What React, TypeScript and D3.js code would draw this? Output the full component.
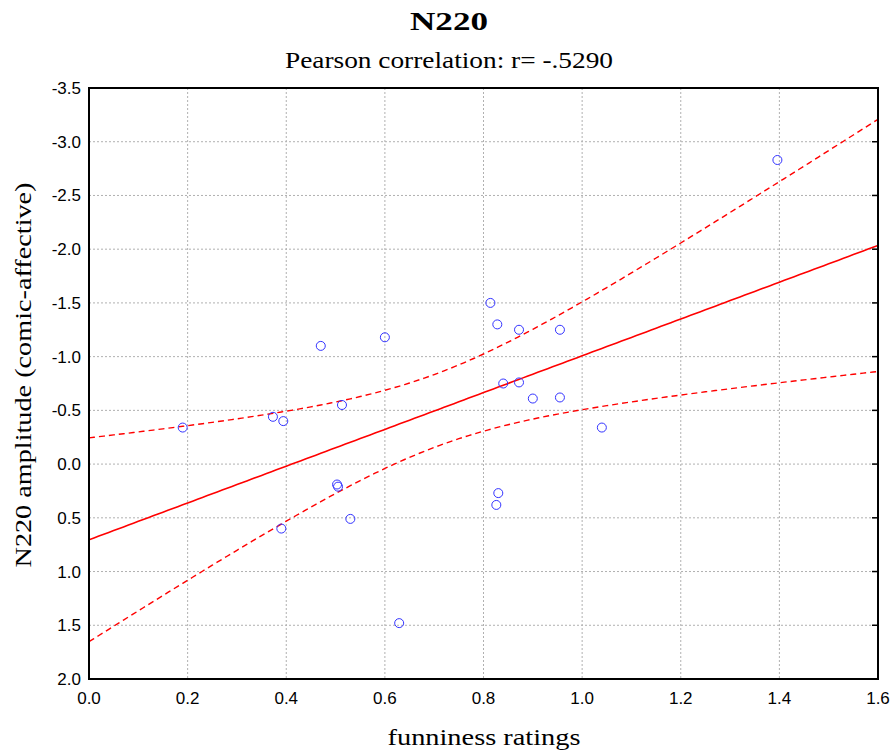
import React from "react";
import * as d3 from "d3";

const funniness = [0.19, 0.373, 0.394, 0.47, 0.513, 0.60, 0.503, 0.505, 0.53, 0.39, 0.629, 0.814, 0.828, 0.872, 0.955, 0.84, 0.872, 0.90, 0.955, 1.04, 0.83, 0.826, 1.396];
const amplitude = [-0.34, -0.44, -0.40, -1.10, -0.55, -1.18, 0.19, 0.21, 0.51, 0.60, 1.48, -1.50, -1.30, -1.25, -1.25, -0.75, -0.76, -0.61, -0.62, -0.34, 0.27, 0.38, -2.83];
const xTicks = [0, 0.2, 0.4, 0.6, 0.8, 1.0, 1.2, 1.4, 1.6];
const yTicks = [-3.5, -3.0, -2.5, -2.0, -1.5, -1.0, -0.5, 0.0, 0.5, 1.0, 1.5, 2.0];
const title = "N220";
const subtitle = "Pearson correlation: r= -.5290";
const xLabel = "funniness ratings";
const yLabel = "N220 amplitude (comic-affective)";
const tCrit = 2.08;

const W = 893, H = 754;
const L = 89, R = 878, T = 88, B = 679;

export default function App() {
  const x = d3.scaleLinear().domain([0, 1.6]).range([L, R]);
  const y = d3.scaleLinear().domain([-3.5, 2.0]).range([T, B]);
  const n = funniness.length;
  const mx = d3.mean(funniness)!;
  const my = d3.mean(amplitude)!;
  let sxx = 0, sxy = 0;
  for (let i = 0; i < n; i++) {
    sxx += (funniness[i] - mx) ** 2;
    sxy += (funniness[i] - mx) * (amplitude[i] - my);
  }
  const b = sxy / sxx;
  const a = my - b * mx;
  let sse = 0;
  for (let i = 0; i < n; i++) sse += (amplitude[i] - a - b * funniness[i]) ** 2;
  const s = Math.sqrt(sse / (n - 2));
  const xs = d3.range(0, 1.6001, 0.01);
  const fit = xs.map((v) => [v, a + b * v] as [number, number]);
  const hw = (v: number) => tCrit * s * Math.sqrt(1 / n + (v - mx) ** 2 / sxx);
  const up = xs.map((v) => [v, a + b * v - hw(v)] as [number, number]);
  const lo = xs.map((v) => [v, a + b * v + hw(v)] as [number, number]);
  const line = d3.line<[number, number]>().x((d) => x(d[0])).y((d) => y(d[1]));

  const serif = "'Liberation Serif', 'DejaVu Serif', serif";
  const sans = "'Liberation Sans', Arial, sans-serif";

  return (
    <div style={{ position: "absolute", left: 0, top: 0 }}>
      <svg width={W} height={H} style={{ display: "block", background: "#fff" }}>
        <defs>
          <clipPath id="plot">
            <rect x={L} y={T} width={R - L} height={B - T} />
          </clipPath>
        </defs>
        <text x={449} y={30} textAnchor="middle" fontFamily={serif} fontWeight="bold" fontSize={25} textLength={78} lengthAdjust="spacingAndGlyphs">{title}</text>
        <text x={449} y={68} textAnchor="middle" fontFamily={serif} fontSize={24} textLength={328} lengthAdjust="spacingAndGlyphs">{subtitle}</text>
        {xTicks.map((t) => (
          <line key={"gx" + t} x1={x(t)} x2={x(t)} y1={T} y2={B} stroke="#b0b0b0" strokeDasharray="2,2" strokeWidth={1} />
        ))}
        {yTicks.map((t) => (
          <line key={"gy" + t} x1={L} x2={R} y1={y(t)} y2={y(t)} stroke="#b0b0b0" strokeDasharray="2,2" strokeWidth={1} />
        ))}
        <g clipPath="url(#plot)" fill="none" stroke="#ff0000">
          <path d={line(fit)!} strokeWidth={1.6} />
          <path d={line(up)!} strokeWidth={1.4} strokeDasharray="6,4" />
          <path d={line(lo)!} strokeWidth={1.4} strokeDasharray="6,4" />
        </g>
        {funniness.map((v, i) => (
          <circle key={i} cx={x(v)} cy={y(amplitude[i])} r={4.5} fill="none" stroke="#3333ff" strokeWidth={1} />
        ))}
        <rect x={L} y={T} width={R - L} height={B - T} fill="none" stroke="#000" strokeWidth={2} />
        {yTicks.map((t) => (
          <line key={"rt" + t} x1={R - 6} x2={R} y1={y(t)} y2={y(t)} stroke="#000" strokeWidth={1.5} />
        ))}
        {yTicks.map((t) => (
          <text key={"yl" + t} x={L - 8} y={y(t) + 6} textAnchor="end" fontFamily={sans} fontSize={17}>{t.toFixed(1)}</text>
        ))}
        {xTicks.map((t) => (
          <text key={"xl" + t} x={x(t)} y={B + 25} textAnchor="middle" fontFamily={sans} fontSize={17}>{t.toFixed(1)}</text>
        ))}
        <text x={484} y={745} textAnchor="middle" fontFamily={serif} fontSize={24} textLength={193} lengthAdjust="spacingAndGlyphs">{xLabel}</text>
        <text transform={`translate(31, 375) rotate(-90)`} textAnchor="middle" fontFamily={serif} fontSize={24} textLength={385} lengthAdjust="spacingAndGlyphs">{yLabel}</text>
      </svg>
    </div>
  );
}
